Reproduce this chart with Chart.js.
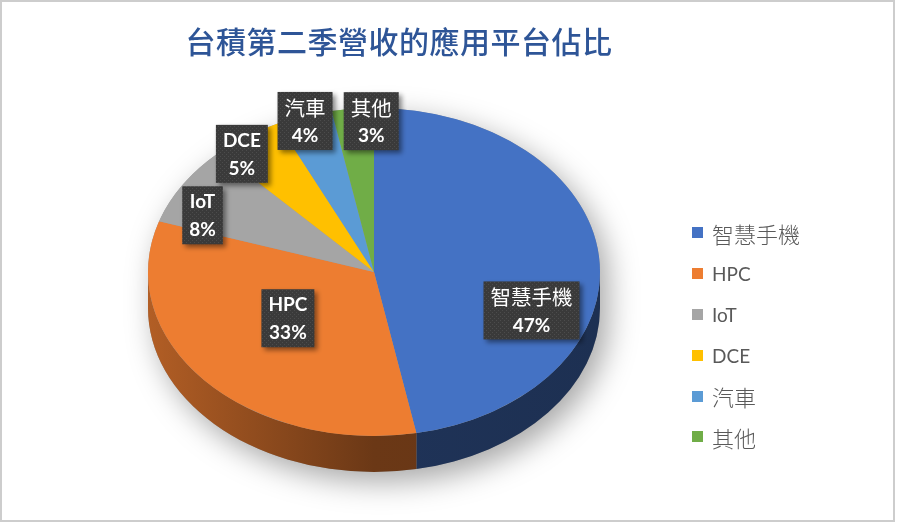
<!DOCTYPE html>
<html>
<head>
<meta charset="utf-8">
<script src="https://cdn.jsdelivr.net/npm/chart.js@4.4.1/dist/chart.umd.min.js"></script>
<style>
  html, body { margin: 0; padding: 0; background: #fff; }
  #wrap { position: relative; width: 900px; height: 531px; overflow: hidden; }
  #frame { position: absolute; left: 0; top: 0; width: 895px; height: 522px; border: 2px solid #cdcdcd; box-sizing: border-box; pointer-events: none; }
  #title { position: absolute; left: 0; top: 18px; width: 798px; text-align: center; font: 500 30px "Noto Sans CJK TC", sans-serif; color: #2e5597; letter-spacing: 0.5px; }
  #legend { position: absolute; left: 692px; top: 212.5px; font: 19px Lato, "Noto Sans CJK TC", sans-serif; color: #595959; }
  #legend div { height: 40.8px; display: flex; align-items: center; }
  #legend span.box { width: 11px; height: 11px; margin-right: 9px; display: inline-block; }
  #legend span.cjk { font: 300 22px "Noto Sans CJK TC", sans-serif; }
</style>
</head>
<body>
<div id="wrap">
  <canvas id="grafico" width="900" height="531"></canvas>
  <div id="title"></div>
  <div id="legend"></div>
  <div id="frame"></div>
</div>
<script>
const titleText = '台積第二季營收的應用平台佔比';
const categories = ['智慧手機', 'HPC', 'IoT', 'DCE', '汽車', '其他'];
const shares = [47, 33, 8, 5, 4, 3];
const colors = ['#4472c4', '#ed7d31', '#a5a5a5', '#ffc000', '#5b9bd5', '#70ad47'];

const tilt = 164 / 226;
const depth = 36;
const hasCJK = s => /[\u4e00-\u9fff]/.test(s);

function shade(hex, f) {
  const n = parseInt(hex.slice(1), 16);
  const r = Math.round(((n >> 16) & 255) * f);
  const g = Math.round(((n >> 8) & 255) * f);
  const b = Math.round((n & 255) * f);
  return 'rgb(' + r + ',' + g + ',' + b + ')';
}

// dotted texture for the label boxes
const dots = document.createElement('canvas');
dots.width = 4; dots.height = 4;
const dctx = dots.getContext('2d');
dctx.fillStyle = '#3a3a3a';
dctx.fillRect(0, 0, 4, 4);
dctx.fillStyle = '#4c4c4c';
dctx.fillRect(0, 0, 1, 1);
dctx.fillRect(2, 2, 1, 1);

const pie3d = {
  id: 'pie3d',
  beforeDatasetsDraw(chart) {
    const ctx = chart.ctx;
    const arcs = chart.getDatasetMeta(0).data;
    const cx = arcs[0].x, cy = arcs[0].y;
    const rx = arcs[0].outerRadius, ry = rx * tilt;

    // soft shadow under the pie
    ctx.save();
    ctx.beginPath();
    ctx.ellipse(cx, cy, rx, ry, 0, Math.PI, 2 * Math.PI);
    ctx.ellipse(cx, cy + depth, rx, ry, 0, 0, Math.PI);
    ctx.closePath();
    ctx.shadowColor = 'rgba(0,0,0,0.35)';
    ctx.shadowBlur = 30;
    ctx.shadowOffsetX = 8;
    ctx.shadowOffsetY = 10;
    ctx.fillStyle = '#999';
    ctx.fill();
    ctx.restore();

    // side wall of the front half
    arcs.forEach((arc, i) => {
      const col = chart.data.datasets[0].backgroundColor[i];
      [0, 2 * Math.PI].forEach(shift => {
        const a1 = Math.max(arc.startAngle - shift, 0);
        const a2 = Math.min(arc.endAngle - shift, Math.PI);
        if (a2 <= a1) return;
        const g = ctx.createLinearGradient(cx - rx, 0, cx + rx, 0);
        g.addColorStop(0, shade(col, 0.75));
        g.addColorStop(0.5, shade(col, 0.45));
        g.addColorStop(1, shade(col, 0.42));
        ctx.beginPath();
        ctx.ellipse(cx, cy, rx, ry, 0, a1, a2);
        ctx.ellipse(cx, cy + depth, rx, ry, 0, a2, a1, true);
        ctx.closePath();
        ctx.fillStyle = g;
        ctx.fill();
      });
    });

    // squash the top face into an ellipse
    ctx.save();
    ctx.translate(cx, cy);
    ctx.scale(1, tilt);
    ctx.translate(-cx, -cy);
  },
  afterDatasetsDraw(chart, args, opts) {
    const ctx = chart.ctx;
    ctx.restore();

    const arcs = chart.getDatasetMeta(0).data;
    arcs.forEach((arc, i) => {
      const mid = (arc.startAngle + arc.endAngle) / 2;
      const f = shares[i] >= 20 ? 0.62 : 0.93;
      const nudge = opts.nudge[i];
      const x = arc.x + f * arc.outerRadius * Math.cos(mid) + nudge[0];
      const y = arc.y + f * arc.outerRadius * tilt * Math.sin(mid) + nudge[1];

      const name = categories[i];
      const pct = shares[i] + '%';
      const nameFont = hasCJK(name)
        ? '20.5px "Noto Sans CJK TC", sans-serif'
        : 'bold 19px Lato, sans-serif';
      const pctFont = 'bold 19px Lato, sans-serif';
      ctx.font = nameFont;
      const w1 = ctx.measureText(name).width;
      ctx.font = pctFont;
      const w2 = ctx.measureText(pct).width;
      const bw = Math.max(w1, w2) + 14, bh = 58;

      ctx.save();
      ctx.shadowColor = 'rgba(0,0,0,0.45)';
      ctx.shadowBlur = 5;
      ctx.shadowOffsetX = 3;
      ctx.shadowOffsetY = 3;
      ctx.fillStyle = ctx.createPattern(dots, 'repeat');
      ctx.fillRect(x - bw / 2, y - bh / 2, bw, bh);
      ctx.restore();

      ctx.save();
      ctx.fillStyle = '#ffffff';
      ctx.textAlign = 'center';
      ctx.textBaseline = 'middle';
      ctx.font = nameFont;
      ctx.fillText(name, x, y - 13);
      ctx.font = pctFont;
      ctx.fillText(pct, x, y + 15);
      ctx.restore();
    });
  }
};

document.getElementById('title').textContent = titleText;

const legend = document.getElementById('legend');
categories.forEach((c, i) => {
  const row = document.createElement('div');
  const box = document.createElement('span');
  box.className = 'box';
  box.style.background = colors[i];
  const txt = document.createElement('span');
  if (hasCJK(c)) txt.className = 'cjk';
  txt.textContent = c;
  row.appendChild(box);
  row.appendChild(txt);
  legend.appendChild(row);
});

const ctx = document.getElementById('grafico').getContext('2d');
new Chart(ctx, {
  type: 'pie',
  data: {
    labels: categories,
    datasets: [{
      data: shares,
      backgroundColor: colors,
      borderWidth: 0
    }]
  },
  options: {
    responsive: false,
    animation: false,
    layout: { padding: { left: 148, right: 300, top: 46, bottom: 33 } },
    plugins: {
      legend: { display: false },
      tooltip: { enabled: false },
      pie3d: { nudge: [[18, 48], [19, -21], [6, 25], [-14, 8], [-4, -6], [17, 1]] }
    }
  },
  plugins: [pie3d]
});
</script>
</body>
</html>
